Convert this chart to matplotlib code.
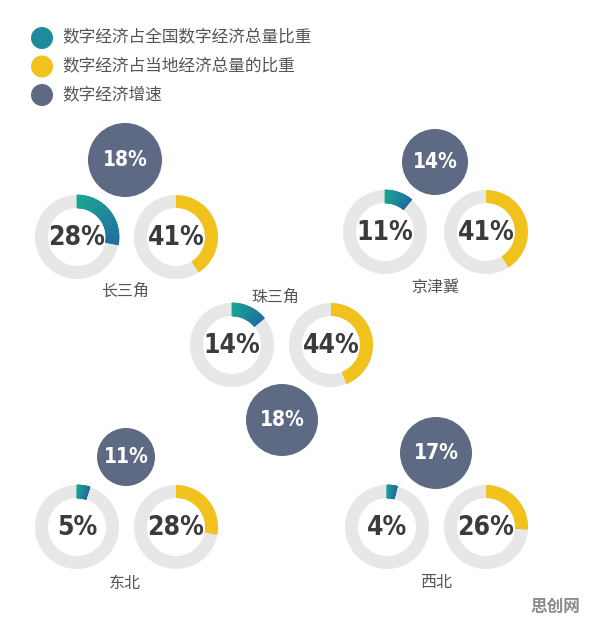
import matplotlib
matplotlib.use("Agg")
import matplotlib.pyplot as plt
from matplotlib.patches import Wedge, Circle
from matplotlib import font_manager as fm
import numpy as np

# ---- data ----
regions = ["长三角", "京津冀", "珠三角", "东北", "西北"]
national_share = [28, 11, 14, 5, 4]      # 数字经济占全国数字经济总量比重
local_share = [41, 41, 44, 28, 26]       # 数字经济占当地经济总量的比重
growth = [18, 14, 18, 11, 17]            # 数字经济增速
legend_labels = ["数字经济占全国数字经济总量比重", "数字经济占当地经济总量的比重", "数字经济增速"]

# ---- layout (pixel coordinates, y from top) ----
W, H = 595, 626
layout = {
    "长三角": dict(left=(77, 237), right=(176, 237), dot=(125, 160), dot_r=37, label=(125, 291)),
    "京津冀": dict(left=(385, 232), right=(486, 232), dot=(435, 162), dot_r=33, label=(435, 287)),
    "珠三角": dict(left=(232, 345), right=(331, 345), dot=(282, 420), dot_r=36, label=(275, 297)),
    "东北": dict(left=(77, 527), right=(176, 527), dot=(126, 457), dot_r=29, label=(125, 583)),
    "西北": dict(left=(387, 527), right=(486, 527), dot=(436, 453), dot_r=36, label=(436, 583)),
}
R_OUT, RING = 42, 13
TEAL0, TEAL1 = np.array([0x1b, 0xa5, 0x93]) / 255, np.array([0x1f, 0x70, 0xa0]) / 255
YELLOW = "#f1c21b"
SLATE = "#5e6a84"
RING_BG = "#e7e7e8"
TXT = "#3b3b3d"

plt.rcParams['font.family'] = ['Noto Sans CJK SC', 'DejaVu Sans']

names = {f.name for f in fm.fontManager.ttflist}
NUM_FAMILY = ['Liberation Sans Narrow'] if 'Liberation Sans Narrow' in names else ['DejaVu Sans']
NUM_STRETCH = 'condensed'

fig = plt.figure(figsize=(W / 100, H / 100), dpi=100)
ax = fig.add_axes([0, 0, 1, 1])
ax.set_xlim(0, W)
ax.set_ylim(H, 0)
ax.set_aspect('equal')
ax.axis('off')

def num_text(x, y, s, size, color):
    ax.text(x, y, s, ha='center', va='center', fontsize=size, fontweight='bold',
            color=color, family=NUM_FAMILY, fontstretch=NUM_STRETCH)

def donut(center, pct, color, gradient=False):
    cx, cy = center
    ax.add_patch(Wedge((cx, cy), R_OUT, 0, 360, width=RING, facecolor=RING_BG, edgecolor='none'))
    start, end = -90, -90 + 360 * pct / 100
    if gradient:
        n = 40
        edges = np.linspace(start, end, n + 1)
        for i in range(n):
            t = i / max(n - 1, 1)
            c = TEAL0 * (1 - t) + TEAL1 * t
            ax.add_patch(Wedge((cx, cy), R_OUT, edges[i], edges[i + 1], width=RING,
                               facecolor=c, edgecolor=c, linewidth=0.6))
    else:
        ax.add_patch(Wedge((cx, cy), R_OUT, start, end, width=RING, facecolor=color, edgecolor='none'))
    num_text(cx, cy + 1, f"{pct}%", 19, TXT)

for i, reg in enumerate(regions):
    L = layout[reg]
    donut(L["left"], national_share[i], None, gradient=True)
    donut(L["right"], local_share[i], YELLOW)
    dx, dy = L["dot"]
    ax.add_patch(Circle((dx, dy), L["dot_r"], facecolor=SLATE, edgecolor='none'))
    num_text(dx, dy, f"{growth[i]}%", 15, 'white')
    lx, ly = L["label"]
    ax.text(lx, ly, reg, ha='center', va='center', fontsize=11.5, color='#555555')

# legend
leg_colors = [tuple((TEAL0 + TEAL1) / 2), YELLOW, SLATE]
for k, (lab, col) in enumerate(zip(legend_labels, leg_colors)):
    y = 38 + k * 28.5
    ax.add_patch(Circle((42, y), 11, facecolor=col, edgecolor='none'))
    ax.text(62, y, lab, ha='left', va='center', fontsize=12, color='#555555')

# watermark
ax.text(555, 607, "思创网", ha='center', va='center', fontsize=12, fontweight='bold', color='#8a8a8a')

fig.savefig("out.png", dpi=100, facecolor='white')
